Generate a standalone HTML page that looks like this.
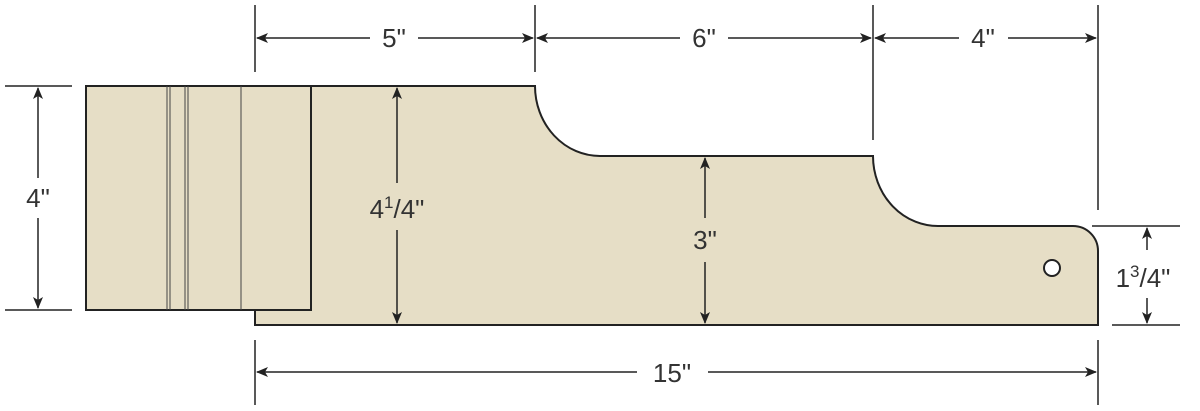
<!DOCTYPE html>
<html><head><style>body{margin:0;background:#fff}svg{display:block}text{font-family:"Liberation Sans",sans-serif;font-size:26px;fill:#333}</style></head><body>
<svg width="1200" height="411" viewBox="0 0 1200 411">
<defs><marker id="a" markerWidth="12" markerHeight="10" refX="11" refY="5" orient="auto-start-reverse" markerUnits="userSpaceOnUse"><path d="M0,0 L12,5 L0,10 L3,5Z" fill="#222"/></marker></defs>
<g stroke="#222" stroke-width="1.5" fill="none">
<path d="M255,5V72M535,5V72M873,5V140M1098,5V210M255,340V405M1098,340V405M5,86H72M5,310H72M1092,226H1180M1112,325H1180"/>
</g>
<path d="M255,325 V310 H311 V86 H535 A65,70 0 0 0 600,156 H873 A65,70 0 0 0 940,226 H1073 A25,25 0 0 1 1098,251 V325 Z" fill="#e6dec6" stroke="#222" stroke-width="2"/>
<rect x="86" y="86" width="225" height="224" fill="#e6dec6" stroke="#222" stroke-width="2"/>
<g stroke="#444" stroke-width="1"><path d="M167,86V310M170,86V310M185,86V310M188,86V310M241,86V310"/></g>
<circle cx="1052" cy="268" r="8" fill="#fff" stroke="#222" stroke-width="2"/>
<g stroke="#222" stroke-width="1.5" marker-start="url(#a)" marker-end="url(#a)">
<line x1="257" y1="38" x2="370" y2="38" marker-end="none"/><line x1="418" y1="38" x2="533" y2="38" marker-start="none"/>
<line x1="537" y1="38" x2="680" y2="38" marker-end="none"/><line x1="728" y1="38" x2="871" y2="38" marker-start="none"/>
<line x1="875" y1="38" x2="959" y2="38" marker-end="none"/><line x1="1008" y1="38" x2="1096" y2="38" marker-start="none"/>
<line x1="257" y1="372" x2="637" y2="372" marker-end="none"/><line x1="708" y1="372" x2="1096" y2="372" marker-start="none"/>
<line x1="38" y1="88" x2="38" y2="178" marker-end="none"/><line x1="38" y1="218" x2="38" y2="308" marker-start="none"/>
<line x1="397" y1="88" x2="397" y2="183" marker-end="none"/><line x1="397" y1="230" x2="397" y2="323" marker-start="none"/>
<line x1="705" y1="158" x2="705" y2="218" marker-end="none"/><line x1="705" y1="262" x2="705" y2="323" marker-start="none"/>
<line x1="1147" y1="228" x2="1147" y2="250" marker-end="none"/><line x1="1147" y1="298" x2="1147" y2="323" marker-start="none"/>
</g>
<text x="394" y="47" text-anchor="middle">5"</text>
<text x="704" y="47" text-anchor="middle">6"</text>
<text x="983" y="47" text-anchor="middle">4"</text>
<text x="672" y="382" text-anchor="middle">15"</text>
<text x="38" y="207" text-anchor="middle">4"</text>
<text x="397" y="218" text-anchor="middle">4<tspan font-size="17" dy="-10">1</tspan><tspan dy="10">/4"</tspan></text>
<text x="705" y="249" text-anchor="middle">3"</text>
<text x="1143" y="287" text-anchor="middle">1<tspan font-size="17" dy="-10">3</tspan><tspan dy="10">/4"</tspan></text>
</svg></body></html>
